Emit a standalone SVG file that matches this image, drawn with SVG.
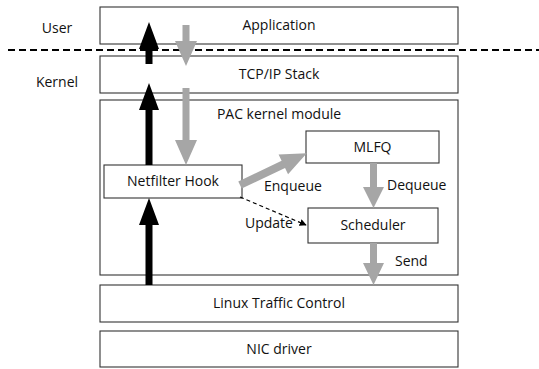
<svg xmlns="http://www.w3.org/2000/svg" width="539" height="369" viewBox="0 0 539 369">
  <style>
    .box { fill: #ffffff; stroke: #333333; stroke-width: 1.1; }
    .lbl { font-family: "Open Sans", "Liberation Sans", sans-serif; font-size: 14px; fill: #111111; text-anchor: middle; }
    .side { font-family: "Open Sans", "Liberation Sans", sans-serif; font-size: 14px; fill: #111111; }
    .up { fill: #000000; }
    .down { fill: #a6a6a6; }
    .sep { stroke: #000000; stroke-width: 2; stroke-dasharray: 7 4; fill: none; }
    .ctl { stroke: #000000; stroke-width: 1.2; stroke-dasharray: 4 3; fill: none; }
  </style>
  <defs>
    <marker id="tri" viewBox="0 0 10 10" refX="9" refY="5" markerWidth="7" markerHeight="7" markerUnits="userSpaceOnUse" orient="auto">
      <path d="M0,0 L10,5 L0,10 z" fill="#000000"/>
    </marker>
  </defs>

  <rect width="539" height="369" fill="#ffffff"/>

  <!-- user / kernel boundary -->
  <line class="sep" x1="8" y1="50" x2="539" y2="50"/>
  <text class="side" x="57" y="33" text-anchor="middle">User</text>
  <text class="side" x="57" y="87" text-anchor="middle">Kernel</text>

  <g id="application">
    <rect class="box" x="100" y="7" width="358" height="37"/>
    <text class="lbl" x="279" y="30">Application</text>
  </g>
  <g id="tcpip">
    <rect class="box" x="100" y="56" width="358" height="37"/>
    <text class="lbl" x="279" y="79">TCP/IP Stack</text>
  </g>
  <g id="pac-module">
    <rect class="box" x="100" y="100" width="358" height="175"/>
    <text class="lbl" x="279" y="119">PAC kernel module</text>
  </g>
  <g id="netfilter">
    <rect class="box" x="104" y="165" width="138" height="33"/>
    <text class="lbl" x="173" y="186">Netfilter Hook</text>
  </g>
  <g id="mlfq">
    <rect class="box" x="306" y="131" width="133" height="32"/>
    <text class="lbl" x="372.5" y="152">MLFQ</text>
  </g>
  <g id="scheduler">
    <rect class="box" x="308" y="208" width="130" height="35"/>
    <text class="lbl" x="373" y="230">Scheduler</text>
  </g>
  <g id="tc">
    <rect class="box" x="100" y="285" width="358" height="37"/>
    <text class="lbl" x="279" y="308">Linux Traffic Control</text>
  </g>
  <g id="nic">
    <rect class="box" x="100" y="331" width="358" height="36"/>
    <text class="lbl" x="279" y="354">NIC driver</text>
  </g>

  <g id="connectors">
    <!-- receive path (up) -->
    <polygon class="up" points="145.5,64 145.5,49 139,49 149,22 159,49 152.5,49 152.5,64"/>
    <polygon class="up" points="145.5,165 145.5,110 139,110 149,83 159,110 152.5,110 152.5,165"/>
    <polygon class="up" points="145.5,285 145.5,225 139,225 149,198 159,225 152.5,225 152.5,285"/>
    <!-- send path (down) -->
    <polygon class="down" points="182.5,25 182.5,41 175,41 186,66 197,41 189.5,41 189.5,25"/>
    <polygon class="down" points="182.5,88 182.5,140 175,140 186,165 197,140 189.5,140 189.5,88"/>
    <polygon class="down" points="370,163 370,187 363,187 373.5,208 384,187 377,187 377,163"/>
    <polygon class="down" points="370,243 370,263 363,263 373.5,285 384,263 377,263 377,243"/>
    <polygon class="down" transform="translate(240,185) rotate(-25.5)" points="0,-4 48,-4 48,-11 74,0 48,11 48,4 0,4"/>
    <!-- control update -->
    <path class="ctl" d="M240,197 L306,225" marker-end="url(#tri)"/>
    <text class="side" x="245" y="228">Update</text>
    <text class="side" x="264" y="191">Enqueue</text>
    <text class="side" x="387" y="190">Dequeue</text>
    <text class="side" x="395" y="266">Send</text>
  </g>
</svg>
